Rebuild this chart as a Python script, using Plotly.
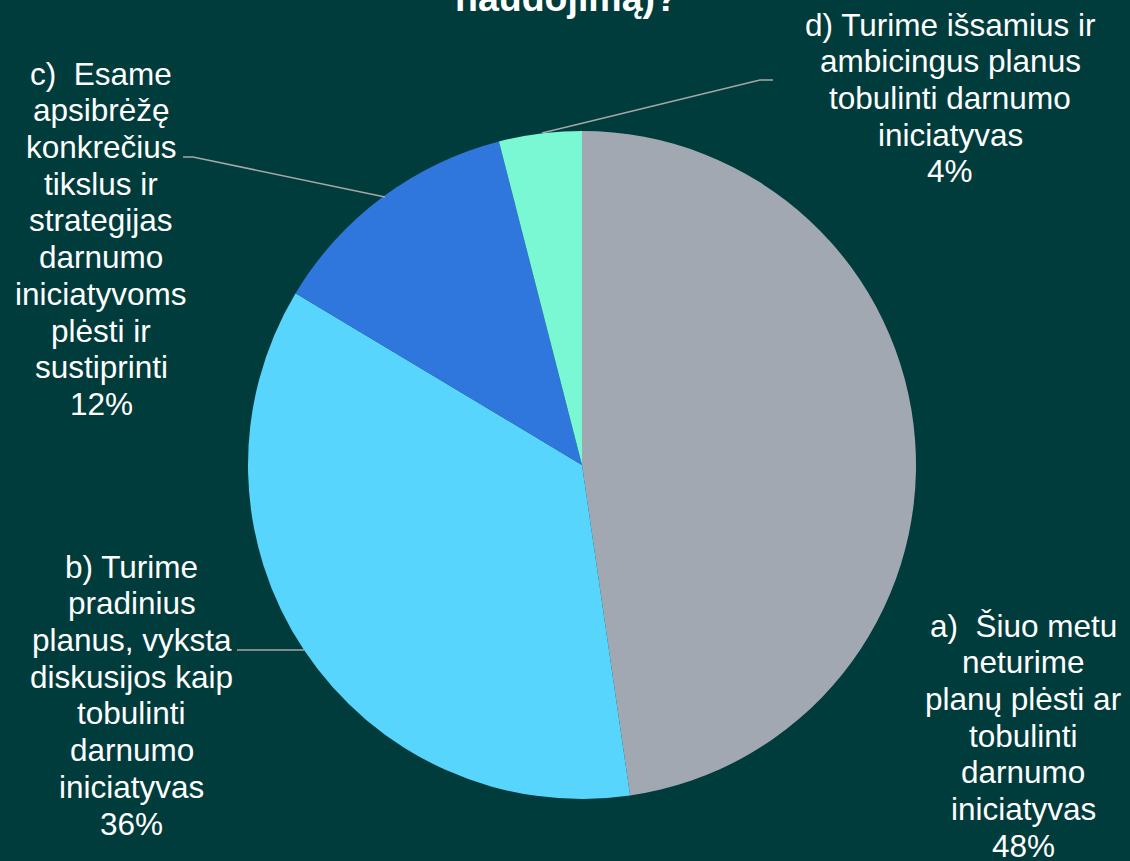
import plotly.graph_objects as go

# ---- data ----
categories = ["a)", "b)", "c)", "d)"]
values = [47.7, 35.9, 12.4, 4.0]
label_lines = [
    ["a)  Šiuo metu", "neturime", "planų plėsti ar", "tobulinti", "darnumo", "iniciatyvas"],
    ["b) Turime", "pradinius", "planus, vyksta", "diskusijos kaip", "tobulinti", "darnumo", "iniciatyvas"],
    ["c)  Esame", "apsibrėžę", "konkrečius", "tikslus ir", "strategijas", "darnumo", "iniciatyvoms", "plėsti ir", "sustiprinti"],
    ["d) Turime išsamius ir", "ambicingus planus", "tobulinti darnumo", "iniciatyvas"],
]
colors = ["#A2A8B2", "#57D5FC", "#3077DD", "#7AF8D4"]
title_tail = "naudojimą)?"

# ---- layout constants (pixels) ----
W, H = 1130, 861
BG = "#003C3C"
cx, cy, R = 582, 465, 334
FS = 31.5
LINE = 36.7
# label block centre x and first-line baseline y
label_pos = [(1023, 636), (131.5, 577), (101, 84), (950, 35)]
leaders = [
    None,
    [(237, 650), (304, 650)],
    [(183, 157), (193, 157), (385, 197)],
    [(773, 80), (760, 80), (542, 133)],
]

def px(x):
    return x / W

def py(y):
    return 1 - y / H

fig = go.Figure(
    go.Pie(
        labels=categories,
        values=values,
        marker=dict(colors=colors, line=dict(width=0)),
        sort=False,
        direction="clockwise",
        rotation=0,
        textinfo="none",
        hoverinfo="label+percent",
        domain=dict(x=[px(cx - R), px(cx + R)], y=[py(cy + R), py(cy - R)]),
        showlegend=False,
    )
)

annotations = []
total = sum(values)
for lines, v, (lx, ly) in zip(label_lines, values, label_pos):
    all_lines = lines + [f"{round(100 * v / total)}%"]
    for i, t in enumerate(all_lines):
        base = ly + i * LINE
        annotations.append(dict(
            text=t, x=px(lx), y=py(base - 0.33 * FS), xref="paper", yref="paper",
            xanchor="center", yanchor="middle", showarrow=False,
            font=dict(family="Liberation Sans, Arial", size=FS, color="white"),
        ))

TFS = 37.5
annotations.append(dict(
    text=f"<b>{title_tail}</b>", x=px(566), y=py(10 - 0.33 * TFS), xref="paper", yref="paper",
    xanchor="center", yanchor="middle", showarrow=False,
    font=dict(family="Liberation Sans, Arial", size=TFS, color="white"),
))

shapes = []
for pts in leaders:
    if not pts:
        continue
    path = "M " + " L ".join(f"{px(x)},{py(y)}" for x, y in pts)
    shapes.append(dict(type="path", path=path, xref="paper", yref="paper",
                       line=dict(color="#A6A6A6", width=1.5)))

fig.update_layout(
    width=W, height=H,
    margin=dict(l=0, r=0, t=0, b=0),
    paper_bgcolor=BG, plot_bgcolor=BG,
    annotations=annotations, shapes=shapes,
)

fig.write_html(
    "out.html",
    config={"displayModeBar": False},
    post_script="document.body.style.margin='0';document.body.style.overflow='hidden';document.body.style.background='" + BG + "';",
)
